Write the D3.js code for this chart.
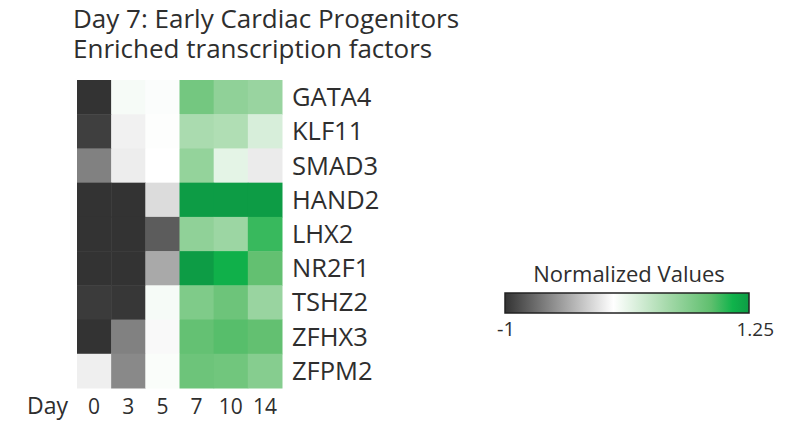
<!DOCTYPE html>
<html>
<head>
<meta charset="utf-8">
<script src="https://cdn.jsdelivr.net/npm/d3@7"></script>
<style>
	body { margin: 0; background: #fff; }
	text { font-family: 'Open Sans', sans-serif; fill: #2e2e2e; }
</style>
</head>
<body>
<svg id="chart" width="786" height="423"></svg>
<script>
const days = ['0', '3', '5', '7', '10', '14']
const genes = ['GATA4', 'KLF11', 'SMAD3', 'HAND2', 'LHX2', 'NR2F1', 'TSHZ2', 'ZFHX3', 'ZFPM2']
// normalized values, one row per gene, columns follow days
const GATA4 = [-1.0, 0.05, 0.02, 0.78, 0.62, 0.57]
const KLF11 = [-0.94, -0.07, 0.01, 0.47, 0.44, 0.22]
const SMAD3 = [-0.62, -0.09, 0.00, 0.60, 0.15, -0.10]
const HAND2 = [-1.0, -1.0, -0.17, 1.25, 1.25, 1.25]
const LHX2 = [-1.0, -1.0, -0.80, 0.62, 0.55, 1.0]
const NR2F1 = [-1.0, -1.0, -0.42, 1.25, 1.12, 0.88]
const TSHZ2 = [-0.96, -0.98, 0.05, 0.72, 0.82, 0.57]
const ZFHX3 = [-1.0, -0.62, -0.03, 0.87, 0.92, 0.88]
const ZFPM2 = [-0.08, -0.58, 0.03, 0.82, 0.80, 0.68]
const values = [GATA4, KLF11, SMAD3, HAND2, LHX2, NR2F1, TSHZ2, ZFHX3, ZFPM2]
const legendTicks = ['-1', '1.25']

const svg = d3.select('#chart')
const grid = { left: 77, right: 282, top: 80, bottom: 388 }

let x = d3.scaleBand().domain(days).range([grid.left, grid.right])
let y = d3.scaleBand().domain(genes).range([grid.top, grid.bottom])
let color = d3.scaleLinear()
	.domain([-1, 0, 0.5, 0.9, 1.1, 1.25])
	.range(['#333333', '#ffffff', '#a5d9aa', '#5fbf6e', '#10b34b', '#0d9c45'])
	.clamp(true)

// title
svg.append('text').attr('x', 73).attr('y', 28).attr('font-size', 26)
	.text('Day 7: Early Cardiac Progenitors')
svg.append('text').attr('x', 73).attr('y', 58).attr('font-size', 26)
	.text('Enriched transcription factors')

// cells
let cells = []
values.forEach((row, i) => row.forEach((v, j) => cells.push({ gene: genes[i], day: days[j], v })))
svg.append('g').selectAll('rect').data(cells).join('rect')
	.attr('x', d => x(d.day))
	.attr('y', d => y(d.gene))
	.attr('width', x.bandwidth() + 0.5)
	.attr('height', y.bandwidth() + 0.5)
	.attr('fill', d => color(d.v))

// gene labels
svg.append('g').selectAll('text').data(genes).join('text')
	.attr('x', grid.right + 10)
	.attr('y', d => y(d) + y.bandwidth() / 2 + 9)
	.attr('font-size', 25.5)
	.text(d => d)

// day labels
svg.append('text').attr('x', 68).attr('y', 414).attr('font-size', 23)
	.attr('text-anchor', 'end').text('Day')
svg.append('g').selectAll('text').data(days).join('text')
	.attr('x', d => x(d) + x.bandwidth() / 2)
	.attr('y', 414)
	.attr('font-size', 21)
	.attr('text-anchor', 'middle')
	.text(d => d)

// legend
let lx = d3.scaleLinear().domain([-1, 1.25]).range([505, 749])
let grad = svg.append('defs').append('linearGradient').attr('id', 'lg')
grad.selectAll('stop').data(color.domain()).join('stop')
	.attr('offset', d => (lx(d) - 505) / (749 - 505))
	.attr('stop-color', d => color(d))
svg.append('rect').attr('x', lx(-1)).attr('y', 293)
	.attr('width', lx(1.25) - lx(-1)).attr('height', 20)
	.attr('fill', 'url(#lg)').attr('stroke', '#222').attr('stroke-width', 1.5)
svg.append('text').attr('x', 629).attr('y', 282)
	.attr('font-size', 22).attr('text-anchor', 'middle').text('Normalized Values')
svg.append('text').attr('x', 497).attr('y', 336).attr('font-size', 20)
	.text(legendTicks[0])
svg.append('text').attr('x', 774).attr('y', 336).attr('font-size', 19)
	.attr('text-anchor', 'end').text(legendTicks[1])
</script>
</body>
</html>
